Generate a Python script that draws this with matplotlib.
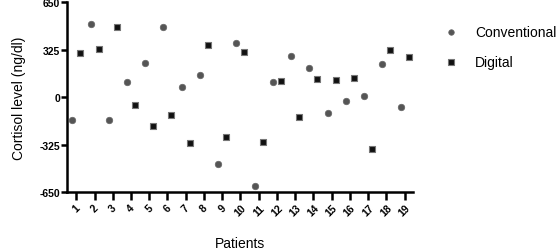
import numpy as np
import matplotlib.pyplot as plt

plt.rcParams["font.family"] = ["Liberation Sans", "DejaVu Sans"]

patients = np.arange(1, 20)
conventional = [-157, 499, -157, 103, 233, 479, 68, 150, -458, 369,
                -609, 100, 283, 200, -112, -29, 5, 224, -70]
digital = [301, 326, 481, -53, -200, -121, -315, 356, -271, 306,
           -310, 107, -135, 123, 116, 130, -353, 324, 274]
yticks = [-650, -325, 0, 325, 650]

fig = plt.figure(figsize=(5.6, 2.53), dpi=100)
ax = fig.add_axes([0.12, 0.237, 0.617, 0.751])

ax.scatter(patients - 0.22, conventional, marker="o", s=22, color="#555555",
           edgecolors="#666666", linewidths=0.5, label="Conventional", zorder=3)
ax.scatter(patients + 0.22, digital, marker="s", s=20, color="#111111",
           edgecolors="#777777", linewidths=0.8, label="Digital", zorder=3)

ax.set_xlim(0.5, 19.45)
ax.set_ylim(-650, 650)
ax.set_xticks(patients)
ax.set_xticklabels([str(p) for p in patients], rotation=45, fontsize=7.5,
                   fontweight="bold", ha="center")
ax.set_yticks(yticks)
ax.set_yticklabels([str(v) for v in yticks], fontsize=7.5, fontweight="bold")
ax.tick_params(axis="x", direction="out", length=5.5, width=1.8, pad=2)
ax.tick_params(axis="y", direction="out", length=4, width=1.8, pad=1)

for s in ["top", "right"]:
    ax.spines[s].set_visible(False)
for s in ["left", "bottom"]:
    ax.spines[s].set_linewidth(1.8)

ax.set_ylabel("Cortisol level (ng/dl)", fontsize=10, labelpad=10)
ax.set_xlabel("Patients", fontsize=10, labelpad=13)

ax.legend(loc="upper left", bbox_to_anchor=(1.035, 0.945), frameon=False,
          fontsize=10, handletextpad=0.7, labelspacing=1.15, markerscale=0.85)

plt.savefig("out.png", dpi=100)
